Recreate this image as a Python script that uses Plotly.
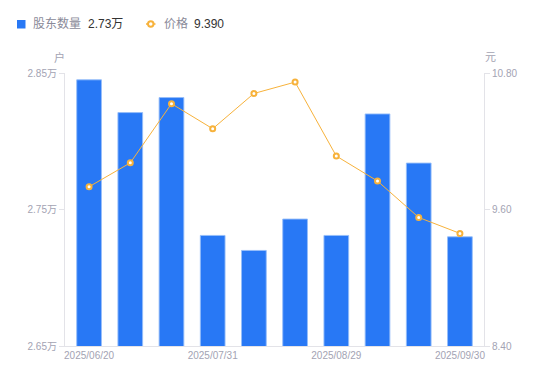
import plotly.graph_objects as go

dates = ["2025/06/20", "2025/06/30", "2025/07/10", "2025/07/31", "2025/08/08",
         "2025/08/20", "2025/08/29", "2025/09/10", "2025/09/19", "2025/09/30"]
holders_wan = [2.845, 2.821, 2.832, 2.731, 2.720, 2.743, 2.731, 2.820, 2.784, 2.730]
price = [9.80, 10.01, 10.53, 10.31, 10.62, 10.72, 10.07, 9.85, 9.53, 9.39]
x_tick_labels = ["2025/06/20", "2025/07/31", "2025/08/29", "2025/09/30"]
y1_ticks = [2.65, 2.75, 2.85]
y2_ticks = [8.40, 9.60, 10.80]

BLUE = "#2878F5"
ORANGE = "#F7B23B"
TICK = "#A3A3B3"
AXIS = "#E3E3E8"
FONT = "Liberation Sans, Noto Sans CJK SC, sans-serif"

# pixel geometry of plot area
L, R, T, B = 65, 484, 73, 346
W, H = R - L, B - T
def px(x):
    return (x - L) / W
def py(y):
    return (B - y) / H

fig = go.Figure()
fig.add_trace(go.Bar(
    x=dates, y=holders_wan, width=0.6,
    marker=dict(color=BLUE, line=dict(color="rgba(150,190,250,0.9)", width=1)),
    yaxis="y", showlegend=False, hoverinfo="skip",
))
fig.add_trace(go.Scatter(
    x=dates, y=price, yaxis="y2", mode="lines+markers",
    line=dict(color=ORANGE, width=1),
    marker=dict(symbol="circle", size=5, color="white", line=dict(color=ORANGE, width=2)),
    showlegend=False, hoverinfo="skip",
))

fig.update_layout(
    width=550, height=381,
    margin=dict(l=L, r=550 - R, t=T, b=381 - B),
    paper_bgcolor="white", plot_bgcolor="white",
    font=dict(family=FONT, size=10, color=TICK),
    bargap=0.4,
    xaxis=dict(
        type="category", tickvals=x_tick_labels, ticktext=x_tick_labels,
        showline=True, linecolor=AXIS, linewidth=1, showgrid=False,
        ticks="", tickfont=dict(size=10, color=TICK), zeroline=False,
    ),
    yaxis=dict(
        range=[y1_ticks[0], y1_ticks[-1]], tickvals=y1_ticks,
        ticktext=[f"{v:.2f}万" for v in y1_ticks],
        showline=True, linecolor=AXIS, linewidth=1, showgrid=False,
        ticks="outside", ticklen=5, tickcolor=AXIS, zeroline=False,
        tickfont=dict(size=10, color=TICK),
    ),
    yaxis2=dict(
        range=[y2_ticks[0], y2_ticks[-1]], tickvals=y2_ticks,
        ticktext=[f"{v:.2f}" for v in y2_ticks],
        overlaying="y", side="right",
        showline=True, linecolor=AXIS, linewidth=1, showgrid=False,
        ticks="outside", ticklen=5, tickcolor=AXIS, zeroline=False,
        tickfont=dict(size=10, color=TICK),
    ),
)

# unit labels
fig.add_annotation(text="户", x=px(59), y=py(57), xref="paper", yref="paper",
                   showarrow=False, font=dict(size=11, color=TICK), xanchor="center", yanchor="middle")
fig.add_annotation(text="元", x=px(490), y=py(57), xref="paper", yref="paper",
                   showarrow=False, font=dict(size=11, color=TICK), xanchor="center", yanchor="middle")

# custom legend
ly = 24
fig.add_shape(type="rect", xref="paper", yref="paper",
              x0=px(17), x1=px(25.5), y0=py(28.5), y1=py(20),
              fillcolor=BLUE, line=dict(width=0))
fig.add_annotation(text="股东数量", x=px(31), y=py(ly), xref="paper", yref="paper",
                   showarrow=False, xanchor="left", yanchor="middle",
                   font=dict(size=12, color="#8A8A99"))
fig.add_annotation(text=f"{holders_wan[-1]:.2f}万", x=px(86), y=py(ly), xref="paper", yref="paper",
                   showarrow=False, xanchor="left", yanchor="middle",
                   font=dict(size=12, color="#333333"))
fig.add_shape(type="line", xref="paper", yref="paper",
              x0=px(146), x1=px(155.5), y0=py(ly), y1=py(ly),
              line=dict(color=ORANGE, width=1.5))
fig.add_shape(type="circle", xref="paper", yref="paper",
              x0=px(148), x1=px(153.5), y0=py(26.7), y1=py(21.3),
              fillcolor="white", line=dict(color=ORANGE, width=2))
fig.add_annotation(text="价格", x=px(161.5), y=py(ly), xref="paper", yref="paper",
                   showarrow=False, xanchor="left", yanchor="middle",
                   font=dict(size=12, color="#8A8A99"))
fig.add_annotation(text=f"{price[-1]:.3f}", x=px(191.5), y=py(ly), xref="paper", yref="paper",
                   showarrow=False, xanchor="left", yanchor="middle",
                   font=dict(size=12, color="#333333"))

fig.write_html("out.html", config={"displayModeBar": False},
               post_script="document.body.style.margin='0';document.body.style.overflow='hidden';")
